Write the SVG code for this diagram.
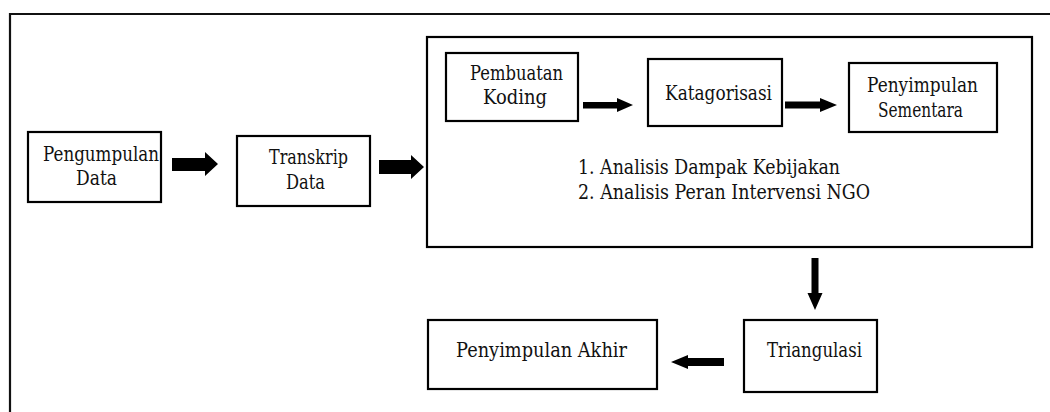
<svg xmlns="http://www.w3.org/2000/svg" width="1050" height="412" viewBox="0 0 1050 412">
<style>
.box{fill:#fff;stroke:#000;stroke-width:2.2}
.frame{fill:none;stroke:#111;stroke-width:2.2}
.t{font-family:'DejaVu Serif','Liberation Serif',serif;font-size:21px;fill:#111}
.arr{fill:#000}
</style>
<rect width="1050" height="412" fill="#fff"/>
<path class="frame" d="M10,412 V14 H1050"/>
<g id="analysis-stage">
<rect class="box" x="427" y="37" width="605" height="210"/>
<text class="t" x="578" y="174" textLength="262" lengthAdjust="spacingAndGlyphs">1. Analisis Dampak Kebijakan</text>
<text class="t" x="578" y="199" textLength="292" lengthAdjust="spacingAndGlyphs">2. Analisis Peran Intervensi NGO</text>
</g>
<g id="pengumpulan-data">
<rect class="box" x="28" y="132" width="133" height="70"/>
<text class="t" x="43" y="161" textLength="116" lengthAdjust="spacingAndGlyphs">Pengumpulan</text>
<text class="t" x="76" y="185" textLength="41" lengthAdjust="spacingAndGlyphs">Data</text>
</g>
<g id="transkrip-data">
<rect class="box" x="237" y="136" width="133" height="70"/>
<text class="t" x="269" y="164" textLength="79" lengthAdjust="spacingAndGlyphs">Transkrip</text>
<text class="t" x="286" y="189" textLength="39" lengthAdjust="spacingAndGlyphs">Data</text>
</g>
<g id="pembuatan-koding">
<rect class="box" x="446" y="53" width="132" height="68"/>
<text class="t" x="470" y="80" textLength="93" lengthAdjust="spacingAndGlyphs">Pembuatan</text>
<text class="t" x="483" y="104" textLength="64" lengthAdjust="spacingAndGlyphs">Koding</text>
</g>
<g id="katagorisasi">
<rect class="box" x="648" y="59" width="134" height="67"/>
<text class="t" x="665" y="100" textLength="107" lengthAdjust="spacingAndGlyphs">Katagorisasi</text>
</g>
<g id="penyimpulan-sementara">
<rect class="box" x="849" y="63" width="148" height="69"/>
<text class="t" x="867" y="92" textLength="111" lengthAdjust="spacingAndGlyphs">Penyimpulan</text>
<text class="t" x="878" y="117" textLength="85" lengthAdjust="spacingAndGlyphs">Sementara</text>
</g>
<g id="triangulasi">
<rect class="box" x="744" y="320" width="133" height="72"/>
<text class="t" x="767" y="357" textLength="95" lengthAdjust="spacingAndGlyphs">Triangulasi</text>
</g>
<g id="penyimpulan-akhir">
<rect class="box" x="428" y="320" width="229" height="69"/>
<text class="t" x="456" y="357" textLength="171" lengthAdjust="spacingAndGlyphs">Penyimpulan  Akhir</text>
</g>
<g id="connectors">
<polygon class="arr" points="172,158 205,158 205,152 218,164 205,176 205,171 172,171"/>
<polygon class="arr" points="379,160 411,160 411,155 424,167 411,179 411,174 379,174"/>
<polygon class="arr" points="583,102 617,102 617,98 633,105 617,112 617,108.5 583,108.5"/>
<polygon class="arr" points="785,101.5 820,101.5 820,98 837,105 820,112 820,108.5 785,108.5"/>
<polygon class="arr" points="811.5,258 818.5,258 818.5,293 822.5,293 815,310 807.5,293 811.5,293"/>
<polygon class="arr" points="724,358 688,358 688,355 671,362 688,369 688,366 724,366"/>
</g>
</svg>
